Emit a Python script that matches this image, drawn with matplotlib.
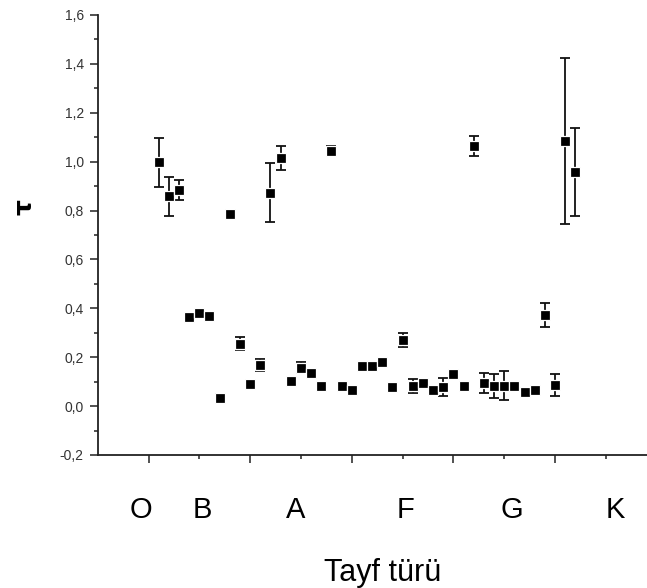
import numpy as np
import matplotlib
matplotlib.use('Agg')
import matplotlib.pyplot as plt
from matplotlib.ticker import MultipleLocator, FixedLocator, FuncFormatter

plt.rcParams['font.family'] = ['Liberation Sans', 'DejaVu Sans']

# spectral position (axis units) and tau values
x_pos = [1.2, 1.4, 1.6, 1.8, 2.0, 2.2, 2.4, 2.6, 2.8, 3.0, 3.2, 3.4, 3.6, 3.8,
         4.0, 4.2, 4.4, 4.6, 4.8, 5.0, 5.2, 5.4, 5.6, 5.8, 6.0, 6.2, 6.4, 6.6,
         6.8, 7.0, 7.2, 7.4, 7.6, 7.8, 8.0, 8.2, 8.4, 8.6, 8.8, 9.0, 9.2, 9.4]
tau = [0.997, 0.858, 0.884, 0.365, 0.382, 0.370, 0.034, 0.784, 0.256, 0.090,
       0.168, 0.873, 1.016, 0.102, 0.157, 0.134, 0.082, 1.045, 0.082, 0.064,
       0.166, 0.166, 0.179, 0.079, 0.270, 0.082, 0.093, 0.064, 0.079, 0.131,
       0.082, 1.065, 0.095, 0.083, 0.083, 0.083, 0.056, 0.065, 0.372, 0.086,
       1.086, 0.957]
tau_err = [0.10, 0.08, 0.042, 0.0, 0.0, 0.0, 0.015, 0.0, 0.025, 0.0,
           0.025, 0.12, 0.05, 0.015, 0.022, 0.0, 0.0, 0.018, 0.012, 0.0,
           0.0, 0.0, 0.0, 0.012, 0.03, 0.03, 0.0, 0.0, 0.036, 0.0,
           0.0, 0.04, 0.04, 0.048, 0.059, 0.0, 0.0, 0.0, 0.05, 0.045,
           0.34, 0.18]

# spectral class letters written under the axis
class_names = ['O', 'B', 'A', 'F', 'G', 'K']
class_pos = [0.85, 2.05, 3.9, 6.06, 8.14, 10.18]

x_pos = np.array(x_pos)
tau = np.array(tau)
tau_err = np.array(tau_err)

fig = plt.figure(figsize=(6.47, 5.88), dpi=100)
ax = fig.add_axes([0.151, 0.2262, 0.849, 0.7483])

has_err = tau_err > 0
ax.errorbar(x_pos[has_err], tau[has_err], yerr=tau_err[has_err], fmt='none',
            ecolor='#111111', elinewidth=1.3, capsize=3.3, capthick=1.3, zorder=2)
ax.plot(x_pos, tau, 's', color='black', ms=7, mec='white', mew=0.9,
        zorder=3, clip_on=False)

ax.set_xlim(0, 10.81)
ax.set_ylim(-0.2, 1.6)

ax.spines['top'].set_visible(False)
ax.spines['right'].set_visible(False)
for s in ['left', 'bottom']:
    ax.spines[s].set_linewidth(1.3)
    ax.spines[s].set_color('#222222')

ax.xaxis.set_major_locator(FixedLocator([1, 3, 5, 7, 9]))
ax.xaxis.set_minor_locator(FixedLocator([2, 4, 6, 8, 10]))
ax.xaxis.set_major_formatter(FuncFormatter(lambda v, p: ''))
ax.yaxis.set_major_locator(MultipleLocator(0.2))
ax.yaxis.set_minor_locator(MultipleLocator(0.1))
ax.yaxis.set_major_formatter(FuncFormatter(lambda v, p: f"{v:.1f}".replace('.', ',')))

ax.tick_params(which='major', direction='out', length=6, width=1.1, color='#222222')
ax.tick_params(which='minor', direction='out', length=3, width=1.1, color='#222222')
ax.tick_params(axis='y', labelsize=10, pad=4, labelcolor='#333333')

for name, xp in zip(class_names, class_pos):
    ax.text(xp, -0.458, name, ha='center', va='baseline', fontsize=21,
            clip_on=False)

fig.text(383 / 647, 1 - 581 / 588, 'Tayf türü', ha='center', va='baseline',
         fontsize=22)
fig.text(25 / 647, 1 - 207 / 588, 'τ', rotation=90, ha='center', va='center',
         fontsize=18, fontweight='bold', family=['DejaVu Sans'])

fig.savefig('out.png', dpi=100)
